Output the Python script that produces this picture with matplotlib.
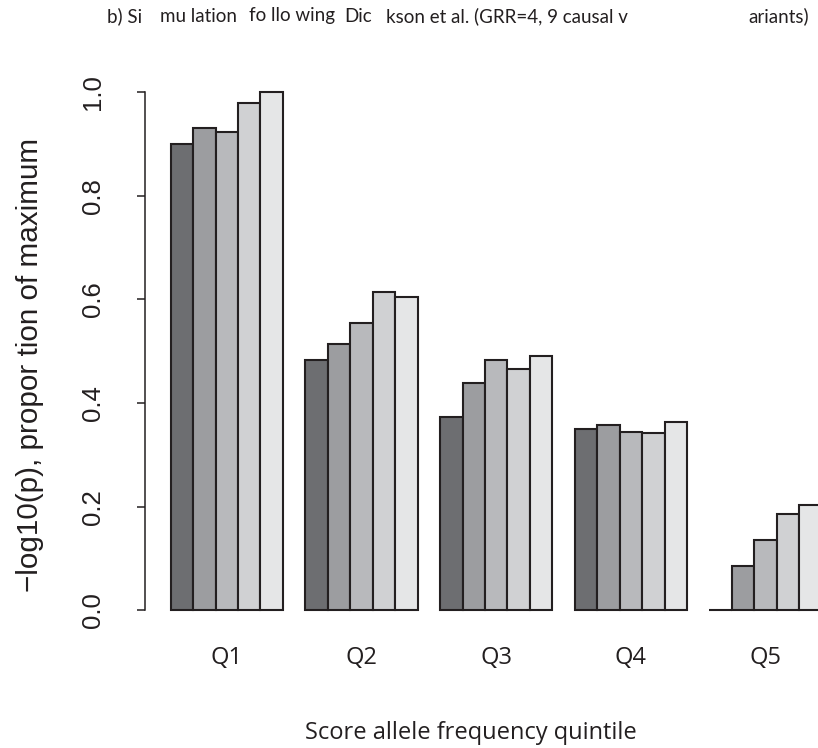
import matplotlib
matplotlib.use("Agg")
import matplotlib.pyplot as plt
import numpy as np

quintiles = ["Q1", "Q2", "Q3", "Q4", "Q5"]
# 5 bars per quintile
q1 = [0.900, 0.930, 0.922, 0.979, 1.000]
q2 = [0.483, 0.514, 0.555, 0.614, 0.605]
q3 = [0.373, 0.439, 0.483, 0.465, 0.491]
q4 = [0.350, 0.358, 0.345, 0.343, 0.363]
q5 = [0.000, 0.086, 0.135, 0.186, 0.203]
values = [q1, q2, q3, q4, q5]
shades = ["#6d6e71", "#9c9da0", "#b8b9bc", "#d0d1d3", "#e5e6e7"]

# title pieces as they sit in the source (broken spacing kept)
title_parts = ["b) Si", "mu lation", "fo llo wing", "Dic",
               "kson et al. (GRR=4, 9 causal v", "ariants)"]
title_x = [107, 160, 249, 344, 386, 748]

W, H = 818, 748
fig = plt.figure(figsize=(W / 100, H / 100), dpi=100)

# R style barplot geometry: bar width 1, one bar of space before each group
left_px, right_px = 144.6, 847.8
top_px, bot_px = 71.3, 631.2
ax = fig.add_axes([left_px / W, 1 - bot_px / H,
                   (right_px - left_px) / W, (bot_px - top_px) / H])

centers = []
for g, vals in enumerate(values):
    for j, v in enumerate(vals):
        x = 1 + g * 6 + j
        ax.bar(x, v, width=1, align="edge", color=shades[j],
               edgecolor="#231f20", linewidth=1.5)
    centers.append(1 + g * 6 + 2.5)

ax.set_xlim(-0.16, 31.16)
ax.set_ylim(-0.04, 1.04)

for s in ["top", "right", "bottom"]:
    ax.spines[s].set_visible(False)
ax.spines["left"].set_bounds(0, 1)
ax.spines["left"].set_linewidth(1.1)
ax.spines["left"].set_color("#231f20")

ax.set_yticks(np.arange(0, 1.01, 0.2))
ax.set_yticklabels([f"{t:.1f}" for t in np.arange(0, 1.01, 0.2)],
                   rotation=90, va="center", fontsize=18.5,
                   family="Liberation Sans", color="#231f20")
ax.tick_params(axis="y", length=5.5, width=1.1, color="#231f20", pad=23)

ax.set_xticks(centers)
ax.set_xticklabels(quintiles, fontsize=17, family="Open Sans", color="#231f20")
ax.tick_params(axis="x", length=0, pad=11)

fig.text(30 / W, 1 - 365 / H, "\u2212log10(p), propor tion of maximum",
         rotation=90, ha="center", va="center", fontsize=21.3,
         family="Liberation Sans", color="#231f20")
fig.text(471 / W, 1 - 733 / H, "Score allele frequency quintile",
         ha="center", va="center", fontsize=17, family="Open Sans",
         color="#231f20")
for txt, xp in zip(title_parts, title_x):
    fig.text(xp / W, 1 - 16 / H, txt, ha="left", va="center",
             fontsize=13.5, family="Lato", color="#231f20")

fig.savefig("out.png", dpi=100)
